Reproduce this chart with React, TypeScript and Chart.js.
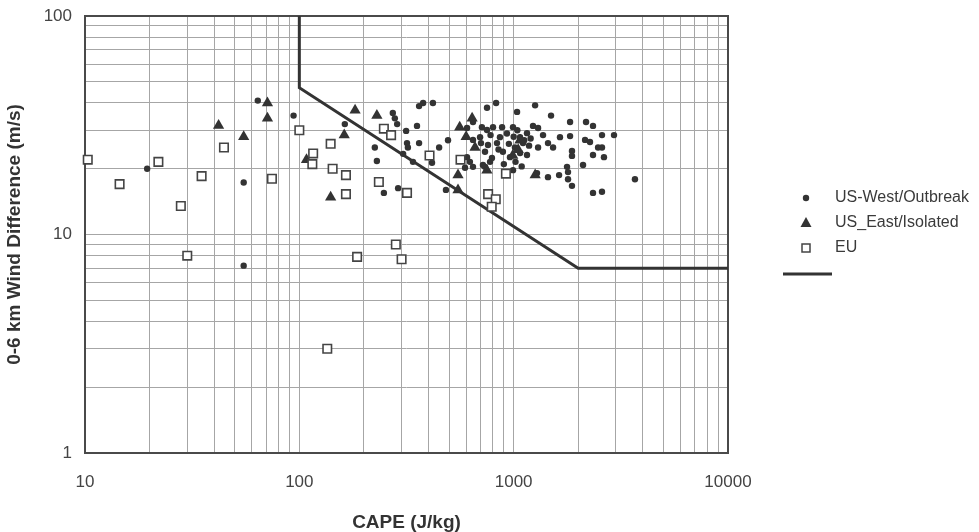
import { useEffect, useRef } from "react";
import { Chart, registerables } from "chart.js";

Chart.register(...registerables);

// CAPE (J/kg) and 0-6 km wind difference (m/s) per sounding group
const westCape = [
  19.5, 64, 55, 94, 55, 163, 225, 230, 273, 279, 286, 362, 378, 420, 315, 354, 318, 321, 362, 449,
  494, 305, 339, 416, 248, 289, 483, 751, 828, 1037, 1259, 1494, 1833, 2176, 2345, 2583, 2939, 1833,
  1645, 1371, 2153, 2271, 2476, 2583, 1871, 1871, 2345, 2638, 1527, 1300, 1446, 993, 883, 801, 751,
  711, 646, 1231, 1300, 863, 836, 759, 735, 792, 891, 1014, 1071, 1154, 1106, 1071, 961, 1154, 606,
  625, 646, 735, 646, 697, 606, 993, 1446, 1629, 1774, 1793, 1793, 1871, 2107, 1285, 2345, 2583,
  3680, 704, 776, 719, 593, 930, 1000, 1040, 950, 1120, 1180, 900, 1020, 1090, 850, 780, 1200,
];
const westShear = [
  20, 41, 17.3, 35, 7.2, 32, 25, 21.7, 36, 34, 32, 38.7, 40, 40, 29.8, 31.4, 26.2, 25, 26.2, 25,
  27, 23.4, 21.5, 21.3, 15.5, 16.3, 16, 38, 40, 36.4, 39, 35, 32.7, 32.7, 31.4, 28.5, 28.5, 28.2,
  27.9, 28.5, 27.1, 26.5, 25, 25, 24.1, 22.9, 23.1, 22.6, 25, 25, 26.2, 31, 31, 31, 30.1,
  31, 32.7, 31.4, 30.7, 27.9, 26.2, 25.7, 23.9, 22.4, 23.9, 25, 27.9, 29.1, 26.2, 23.6, 22.6, 23.1, 22.6,
  21.5, 20.4, 20.4, 27.1, 27.9, 30.7, 19.7, 18.3, 18.7, 20.4, 19.3, 17.9, 16.7, 20.8, 19.1, 15.5, 15.7,
  17.9, 26.2, 21.5, 20.8, 20.2, 29, 28, 30, 26, 27, 25.5, 21, 21.5, 20.5, 24.5, 28.5, 27.5,
];

const eastCape = [42, 55, 71, 71, 108, 182, 230, 162, 140, 560, 640, 600, 550, 550, 750, 1260, 1070, 1050, 990, 660];
const eastShear = [31.5, 28, 40, 34, 22, 37, 35, 28.5, 14.8, 31, 34, 28, 18.7, 16, 19.7, 18.7, 27, 24.4, 23, 25];

const euCape = [
  10.3, 14.5, 22, 28, 35, 30, 44.5, 74.5, 100, 116, 115, 140, 143, 165, 165, 235, 248, 268, 318,
  405, 565, 920, 760, 825, 790, 186, 282, 300, 135,
];
const euShear = [
  22, 17, 21.5, 13.5, 18.5, 8, 25, 18, 30, 23.5, 21, 26, 20, 18.7, 15.3, 17.4, 30.5, 28.5, 15.5,
  23, 22, 19, 15.3, 14.5, 13.4, 7.9, 9, 7.7, 3,
];

// Discrimination line
const lineCape = [100, 100, 2000, 10000];
const lineShear = [100, 47, 7, 7];

const xLabelTicks = [10, 100, 1000, 10000];
const yLabelTicks = [1, 10, 100];
const minorSteps = [1, 2, 3, 4, 5, 6, 7, 8, 9];

const seriesNames = ["US-West/Outbreak", "US_East/Isolated", "EU"];

const FONT = "'Liberation Sans', Arial, Helvetica, sans-serif";
const INK = "#333333";

function pairs(xs: number[], ys: number[]) {
  return xs.map((x, i) => ({ x, y: ys[i] }));
}

function gridValues(decades: number[]) {
  const out: number[] = [];
  for (let i = 0; i < decades.length - 1; i++) {
    for (const m of minorSteps) out.push(decades[i] * m);
  }
  out.push(decades[decades.length - 1]);
  return out;
}

const frameAndLegend = {
  id: "frameAndLegend",
  beforeDatasetsDraw(chart: any) {
    const { ctx, chartArea } = chart;
    ctx.save();
    ctx.strokeStyle = "#4a4a4a";
    ctx.lineWidth = 2;
    ctx.strokeRect(chartArea.left, chartArea.top, chartArea.right - chartArea.left, chartArea.bottom - chartArea.top);
    ctx.restore();
  },
  afterDraw(chart: any) {
    const { ctx, chartArea } = chart;
    const mx = chartArea.right + 78;
    const tx = chartArea.right + 107;
    const y0 = 198;
    const gap = 25;
    ctx.save();
    ctx.font = `16px ${FONT}`;
    ctx.textBaseline = "middle";
    ctx.textAlign = "left";
    // dot
    ctx.beginPath();
    ctx.arc(mx, y0, 3.2, 0, Math.PI * 2);
    ctx.fillStyle = INK;
    ctx.fill();
    // triangle
    const ty = y0 + gap;
    ctx.beginPath();
    ctx.moveTo(mx, ty - 6);
    ctx.lineTo(mx + 5.5, ty + 4);
    ctx.lineTo(mx - 5.5, ty + 4);
    ctx.closePath();
    ctx.fill();
    // square
    const sy = y0 + gap * 2;
    ctx.fillStyle = "#ffffff";
    ctx.strokeStyle = "#444444";
    ctx.lineWidth = 1.5;
    ctx.fillRect(mx - 4, sy - 4, 8, 8);
    ctx.strokeRect(mx - 4, sy - 4, 8, 8);
    // line
    const ly = y0 + gap * 3 + 1;
    ctx.beginPath();
    ctx.moveTo(mx - 23, ly);
    ctx.lineTo(mx + 26, ly);
    ctx.strokeStyle = INK;
    ctx.lineWidth = 3;
    ctx.stroke();
    // labels
    ctx.fillStyle = "#3a3a3a";
    seriesNames.forEach((name, i) => ctx.fillText(name, tx, y0 + gap * i));
    ctx.restore();
  },
};

export default function App() {
  const ref = useRef<HTMLCanvasElement>(null);

  useEffect(() => {
    if (!ref.current) return;
    const xGrid = gridValues(xLabelTicks);
    const yGrid = gridValues(yLabelTicks);
    const chart = new Chart(ref.current, {
      type: "scatter",
      data: {
        datasets: [
          {
            label: seriesNames[2],
            data: pairs(euCape, euShear),
            pointStyle: "rect",
            pointRadius: 6,
            pointBackgroundColor: "#ffffff",
            pointBorderColor: "#444444",
            pointBorderWidth: 1.6,
            clip: false,
            order: 0,
          },
          {
            label: "threshold",
            type: "line",
            data: pairs(lineCape, lineShear),
            showLine: true,
            borderColor: INK,
            borderWidth: 3,
            pointRadius: 0,
            fill: false,
            tension: 0,
            order: 1,
          },
          {
            label: seriesNames[1],
            data: pairs(eastCape, eastShear),
            pointStyle: "triangle",
            pointRadius: 6.5,
            pointBackgroundColor: INK,
            pointBorderColor: INK,
            pointBorderWidth: 0,
            clip: false,
            order: 2,
          },
          {
            label: seriesNames[0],
            data: pairs(westCape, westShear),
            pointStyle: "circle",
            pointRadius: 3.2,
            pointBackgroundColor: INK,
            pointBorderColor: INK,
            pointBorderWidth: 0,
            clip: false,
            order: 3,
          },
        ] as any,
      },
      options: {
        animation: false,
        responsive: true,
        maintainAspectRatio: false,
        events: [],
        layout: { padding: { left: 0, right: 251, top: 16, bottom: 0 } },
        plugins: { legend: { display: false }, tooltip: { enabled: false } },
        scales: {
          x: {
            type: "logarithmic",
            min: 10,
            max: 10000,
            afterBuildTicks: (s: any) => {
              s.ticks = xGrid.map((v) => ({ value: v }));
            },
            afterFit: (s: any) => {
              s.height = 79;
              s.paddingLeft = 0;
              s.paddingRight = 0;
            },
            grid: { color: "#a6a6a6", lineWidth: 1, drawTicks: false },
            border: { display: false },
            ticks: {
              autoSkip: false,
              maxRotation: 0,
              padding: 19,
              color: "#444444",
              font: { family: FONT, size: 17 },
              callback: (v: any) => (xLabelTicks.includes(Number(v)) ? String(v) : ""),
            },
            title: {
              display: true,
              text: "CAPE (J/kg)",
              color: INK,
              font: { family: FONT, size: 19, weight: "bold", lineHeight: 1 },
              padding: { top: 0, bottom: 0 },
            },
          },
          y: {
            type: "logarithmic",
            min: 1,
            max: 100,
            afterBuildTicks: (s: any) => {
              s.ticks = yGrid.map((v) => ({ value: v }));
            },
            afterFit: (s: any) => {
              s.width = 85;
              s.paddingTop = 0;
              s.paddingBottom = 0;
            },
            grid: { color: "#a6a6a6", lineWidth: 1, drawTicks: false },
            border: { display: false },
            ticks: {
              autoSkip: false,
              padding: 13,
              color: "#444444",
              font: { family: FONT, size: 17 },
              callback: (v: any) => (yLabelTicks.includes(Number(v)) ? String(v) : ""),
            },
            title: {
              display: true,
              text: "0-6 km Wind Difference (m/s)",
              color: INK,
              font: { family: FONT, size: 19, weight: "bold", lineHeight: 1 },
              padding: { top: 5, bottom: 0 },
            },
          },
        },
      } as any,
      plugins: [frameAndLegend],
    });
    return () => chart.destroy();
  }, []);

  return (
    <div style={{ position: "absolute", left: 0, top: 0, width: 979, height: 532, background: "#ffffff" }}>
      <canvas ref={ref} />
    </div>
  );
}
